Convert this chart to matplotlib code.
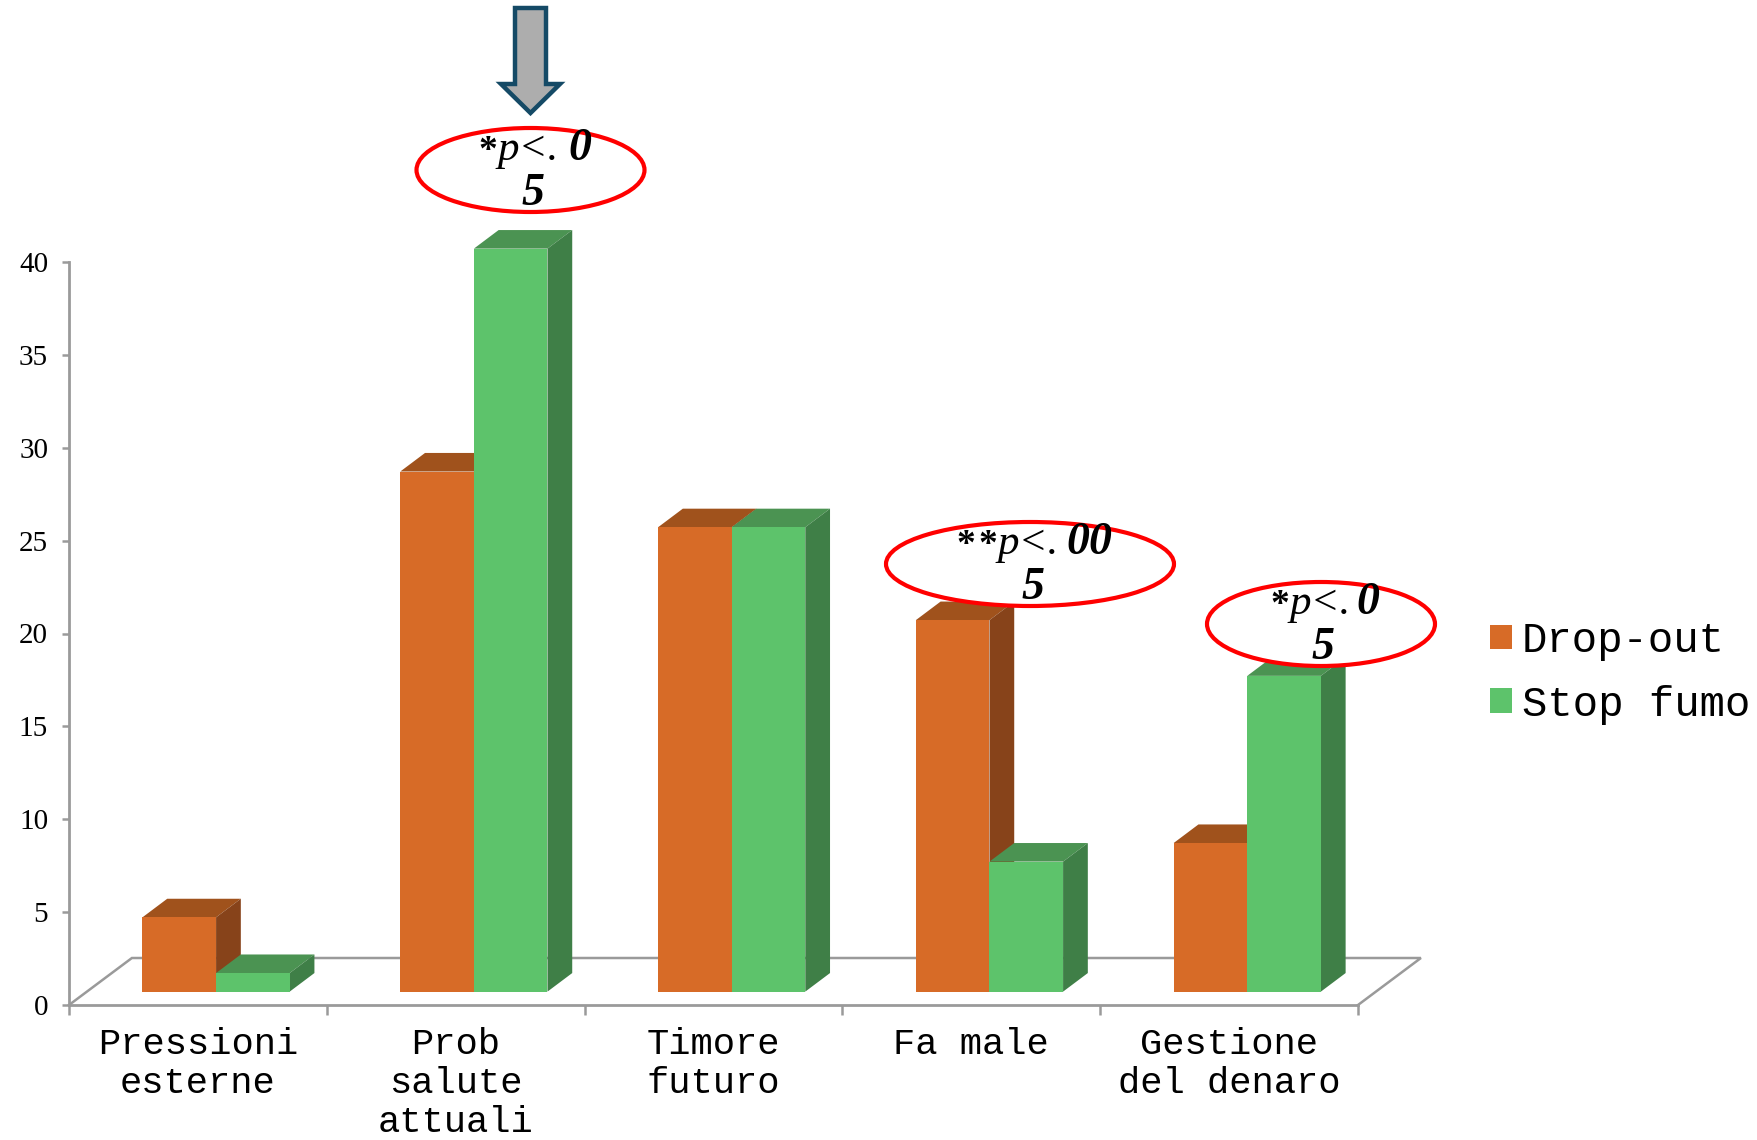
import matplotlib
matplotlib.use("Agg")
import matplotlib.pyplot as plt
from matplotlib.patches import Ellipse, Polygon

# ---------------------------------------------------------------------------
# Data
# ---------------------------------------------------------------------------
categories = ["Pressioni\nesterne", "Prob\nsalute\nattuali", "Timore\nfuturo",
              "Fa male", "Gestione\ndel denaro"]
drop_out = [4, 28, 25, 20, 8]
stop_fumo = [1, 40, 25, 7, 17]
y_ticks = [0, 5, 10, 15, 20, 25, 30, 35, 40]

W, H = 1757, 1140
DPI = 100

ORANGE = ("#D76B27", "#A0521C", "#87431A")  # front, top, side
GREEN = ("#5DC36B", "#4B9352", "#3F7F47")
GREY = "#9A9A9A"

# fake 3D geometry, in data units
BAR_WIDTH = 0.2855
BAR_GAP = 0.285
DEPTH_X = 0.096
DEPTH_Y = 1.0
LIFT = 0.72
FLOOR_X = 0.244
FLOOR_Y = 2.53

fig = plt.figure(figsize=(W / DPI, H / DPI), dpi=DPI)
ax = fig.add_axes([69 / W, 1 - 1005 / H, (1358 - 69) / W, (1005 - 262) / H])
ax.set_xlim(0, 5)
ax.set_ylim(0, 40)


def draw_box(x, value, colors, z):
    front, top, side = colors
    y1 = LIFT + value
    x1 = x + BAR_WIDTH
    ax.add_patch(Polygon([(x, y1), (x1, y1), (x1 + DEPTH_X, y1 + DEPTH_Y), (x + DEPTH_X, y1 + DEPTH_Y)],
                         facecolor=top, edgecolor="none", zorder=z, clip_on=False))
    ax.add_patch(Polygon([(x1, LIFT), (x1 + DEPTH_X, LIFT + DEPTH_Y), (x1 + DEPTH_X, y1 + DEPTH_Y), (x1, y1)],
                         facecolor=side, edgecolor="none", zorder=z, clip_on=False))
    return ax.bar(x, value, width=BAR_WIDTH, bottom=LIFT, align="edge", color=front,
                  zorder=z + 0.1, clip_on=False)


for i in range(len(categories)):
    bar_o = draw_box(i + BAR_GAP, drop_out[i], ORANGE, 3)
    bar_g = draw_box(i + BAR_GAP + BAR_WIDTH, stop_fumo[i], GREEN, 3.2)

# floor of the 3D box
ax.plot([0, FLOOR_X, 5 + FLOOR_X, 5], [0, FLOOR_Y, FLOOR_Y, 0], color=GREY, lw=1.8,
        zorder=1, clip_on=False, solid_joinstyle="miter")

for name in ["top", "right"]:
    ax.spines[name].set_visible(False)
for name in ["left", "bottom"]:
    ax.spines[name].set_color(GREY)
    ax.spines[name].set_linewidth(2)

ax.set_yticks(y_ticks)
ax.tick_params(axis="y", length=5, width=1.8, color=GREY, pad=10)
for lab in ax.get_yticklabels():
    lab.set_fontfamily("Liberation Serif")
    lab.set_fontsize(21)

ax.set_xticks(range(6))
ax.set_xticklabels([])
ax.tick_params(axis="x", which="major", length=7, width=1.8, color=GREY)
ax.set_xticks([i + 0.5 for i in range(5)], minor=True)
ax.set_xticklabels(categories, minor=True, fontfamily="Liberation Mono", fontsize=26.7,
                   linespacing=1.15)
ax.tick_params(axis="x", which="minor", length=0, pad=16)

ax.legend([bar_o, bar_g], ["Drop-out", "Stop fumo"], loc="upper left", frameon=False,
          bbox_to_anchor=(1490 / W, 1 - 621 / H), bbox_transform=fig.transFigure,
          prop={"family": "Liberation Mono", "size": 30.4}, handlelength=0.53, handleheight=0.53,
          handletextpad=0.22, labelspacing=0.56, borderpad=0, borderaxespad=0)

# overlay in pixel coordinates for the arrow and the significance notes
over = fig.add_axes([0, 0, 1, 1], zorder=5)
over.set_xlim(0, W)
over.set_ylim(H, 0)
over.axis("off")

over.add_patch(Polygon([(515, 8), (546, 8), (546, 84), (560, 84), (530.5, 113), (501, 84), (515, 84)],
                       facecolor="#ADADAD", edgecolor="#154A66", lw=3.2, joinstyle="miter"))


def note(cx, cy, w, star_xs, x_stem, zero, x_zero, x_five):
    over.add_patch(Ellipse((cx, cy), w, 84, facecolor="white", edgecolor="#FF0000", lw=3))
    base1 = cy - 10
    base2 = cy + 35
    for x_star in star_xs:
        over.text(x_star, base1 + 1, "*", family="Liberation Serif", weight="bold", fontsize=27,
                  ha="center", va="baseline")
    over.text(x_stem, base1, "p<.", family="Liberation Serif", style="italic", fontsize=31,
              ha="left", va="baseline")
    over.text(x_zero, base1, zero, family="Liberation Serif", style="italic", weight="bold",
              fontsize=33, ha="left", va="baseline")
    over.text(x_five, base2, "5", family="Liberation Serif", style="italic", weight="bold",
              fontsize=33, ha="center", va="baseline")


note(530.5, 170, 228, [488], 498, "0", 568, 533)
note(1030, 564, 288, [966, 988], 998, "00", 1066, 1033)
note(1321, 624, 228, [1280], 1290, "0", 1356, 1323)

fig.savefig("out.png", dpi=DPI)
